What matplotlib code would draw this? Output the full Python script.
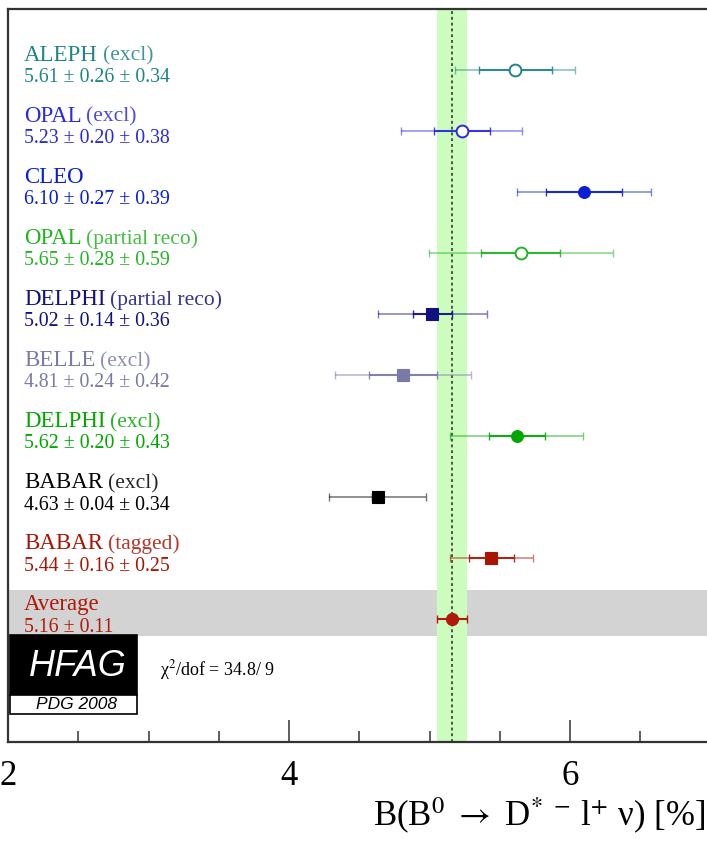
import numpy as np
import matplotlib.pyplot as plt
import matplotlib.transforms as mtransforms
from matplotlib.patches import Rectangle
from matplotlib.ticker import MultipleLocator

plt.rcParams['font.family'] = ['Liberation Serif', 'DejaVu Serif']
plt.rcParams['mathtext.fontset'] = 'stix'

# measurements, listed from top to bottom
experiments = ['ALEPH', 'OPAL', 'CLEO', 'OPAL', 'DELPHI',
               'BELLE', 'DELPHI', 'BABAR', 'BABAR']
methods = ['(excl)', '(excl)', '', '(partial reco)', '(partial reco)',
           '(excl)', '(excl)', '(excl)', '(tagged)']
values = [5.61, 5.23, 6.10, 5.65, 5.02, 4.81, 5.62, 4.63, 5.44]
stat_err = [0.26, 0.20, 0.27, 0.28, 0.14, 0.24, 0.20, 0.04, 0.16]
syst_err = [0.34, 0.38, 0.39, 0.59, 0.36, 0.42, 0.43, 0.34, 0.25]

# world average
avg_value = 5.16
avg_err = 0.11
chi2 = 34.8
ndof = 9

xticks = [2, 4, 6]

# styles
colors = ['#208585', '#2a2ade', '#0a1ed2', '#22b422', '#11117f',
          '#7a7aa8', '#00a800', '#000000', '#aa1405']
markers = ['o', 'o', 'o', 'o', 's', 's', 'o', 's', 's']
hollow = [True, True, False, True, False, False, False, False, False]
avg_color = '#b01a0c'

W, H = 707, 843


def fx(px):
    return px / W


def fy(py):
    return 1 - py / H


fig = plt.figure(figsize=(W / 100, H / 100), dpi=100)
ax = fig.add_axes([fx(8), fy(741.5), 1 - fx(8), (741.5 - 9) / H])

n = len(values)
ypos = np.arange(n, 0, -1) + 1  # 10 ... 2, average at 1
total_err = np.sqrt(np.array(stat_err) ** 2 + np.array(syst_err) ** 2)

ax.set_xlim(2, 2 + 699 / 140.5)
ax.set_ylim(-1, 11)

# average band and line
ax.axhspan(0.726, 1.48, color='#d3d3d3', lw=0, zorder=0)
ax.axvspan(avg_value - avg_err, avg_value + avg_err, color='#ccfdbe', lw=0, zorder=1)
ax.axvline(avg_value, color='#444444', lw=1.3, ls=(0, (1.6, 1.6)), zorder=2)

trans = mtransforms.blended_transform_factory(ax.transAxes, ax.transData)
x_text = (24 - 8) / 699

for i in range(n):
    c = colors[i]
    y = ypos[i]
    ax.errorbar(values[i], y, xerr=total_err[i], fmt='none', ecolor=c,
                elinewidth=1.1, capsize=2.6, capthick=1.0, alpha=0.55, zorder=3)
    ax.errorbar(values[i], y, xerr=stat_err[i], fmt='none', ecolor=c,
                elinewidth=1.5, capsize=2.6, capthick=1.0, alpha=0.9, zorder=4)
    ax.plot(values[i], y, marker=markers[i], ms=8.5, ls='none',
            mfc='white' if hollow[i] else c, mec=c, mew=1.4 if hollow[i] else 0.8,
            zorder=5)

    name = ax.text(x_text, y + 0.15, experiments[i], transform=trans,
                   fontsize=16.5, color=c, va='baseline', ha='left')
    if methods[i]:
        ax.annotate(methods[i], xy=(1, 0), xycoords=name, xytext=(3.5, 0),
                    textcoords='offset points', fontsize=15.5, color=c,
                    va='bottom', ha='left', alpha=0.85)
    ax.text(x_text, y - 0.2,
            f'{values[i]:.2f} \u00b1 {stat_err[i]:.2f} \u00b1 {syst_err[i]:.2f}',
            transform=trans, fontsize=14.3, color=c, va='baseline', ha='left')

# average point
ax.errorbar(avg_value, 1, xerr=avg_err, fmt='o', color=avg_color, ms=8.5,
            elinewidth=1.5, capsize=2.6, capthick=1.0, zorder=6)
ax.text(x_text, 1 + 0.15, 'Average', transform=trans, fontsize=16.5,
        color=avg_color, va='baseline', ha='left')
ax.text(x_text, 1 - 0.2, f'{avg_value:.2f} \u00b1 {avg_err:.2f}', transform=trans,
        fontsize=14.3, color=avg_color, va='baseline', ha='left')

# axes styling
ax.set_xticks(xticks)
ax.set_xticklabels([str(t) for t in xticks])
ax.xaxis.set_minor_locator(MultipleLocator(0.5))
ax.tick_params(axis='x', which='major', direction='in', length=16, width=1.1,
               color='#333333', labelsize=25, pad=13, top=False)
ax.tick_params(axis='x', which='minor', direction='in', length=8, width=1.1,
               color='#333333', top=False)
ax.set_yticks([])
for side in ['left', 'bottom', 'top']:
    ax.spines[side].set_linewidth(1.6)
    ax.spines[side].set_color('#333333')
ax.spines['right'].set_visible(False)

# HFAG logo
fig.patches.append(Rectangle((fx(10), fy(695)), (137 - 10) / W, (695 - 635) / H,
                             transform=fig.transFigure, facecolor='black',
                             edgecolor='black', lw=1.2, zorder=10))
fig.patches.append(Rectangle((fx(10), fy(714)), (137 - 10) / W, (714 - 695) / H,
                             transform=fig.transFigure, facecolor='white',
                             edgecolor='black', lw=1.2, zorder=10))
fig.text(fx(78), fy(676), 'HFAG', color='white', fontsize=26, style='italic',
         family='Liberation Sans', ha='center', va='baseline', zorder=11)
fig.text(fx(76.5), fy(709), 'PDG 2008', color='black', fontsize=12.5,
         style='italic', family='Liberation Sans', ha='center', va='baseline',
         zorder=11)

fig.text(fx(160), fy(675), f'\u03c7$^{{2}}$/dof = {chi2}/ {ndof}', fontsize=13,
         ha='left', va='baseline')

fig.text(fx(705), fy(826),
         'B(B$^{0}$ $\\rightarrow$ D$^{*}$ $^{-}$ l$^{+}$ \u03bd) [%]',
         fontsize=25, ha='right', va='baseline')

fig.savefig('out.png', dpi=100)
